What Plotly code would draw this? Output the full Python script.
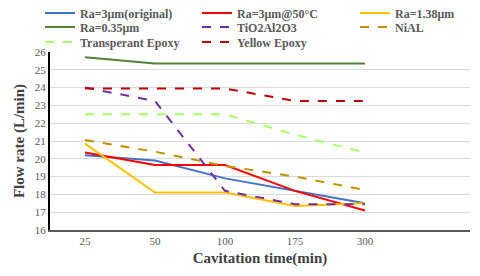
import plotly.graph_objects as go

categories = ["25", "50", "100", "175", "300"]
ra3_original = [20.2, 19.9, 18.9, 18.2, 17.5]
ra3_50c = [20.35, 19.65, 19.65, 18.2, 17.1]
ra1_38 = [20.85, 18.1, 18.1, 17.35, 17.5]
ra0_35 = [25.7, 25.35, 25.35, 25.35, 25.35]
tio2al2o3 = [24.0, 23.25, 18.2, 17.45, 17.45]
nial = [21.05, 20.4, 19.6, 19.0, 18.25]
transparent_epoxy = [22.5, 22.5, 22.5, 21.35, 20.35]
yellow_epoxy = [23.95, 23.95, 23.95, 23.25, 23.25]
y_ticks = list(range(16, 27))

series = [
    ("Ra=3μm(original)", ra3_original, "#4472C4", "solid"),
    ("Ra=3μm@50°C", ra3_50c, "#FF0000", "solid"),
    ("Ra=1.38μm", ra1_38, "#FFC000", "solid"),
    ("Ra=0.35μm", ra0_35, "#548235", "solid"),
    ("TiO2Al2O3", tio2al2o3, "#7030A0", "dash"),
    ("NiAL", nial, "#BF9000", "dash"),
    ("Transperant Epoxy", transparent_epoxy, "#A6FF66", "dash"),
    ("Yellow Epoxy", yellow_epoxy, "#C00000", "dash"),
]

# legend grid: line start x (px) per column, row center y (px)
col_x = [45, 202, 360]
row_y = [13, 27, 42]

L, R, T, B = 50, 10, 52, 46
W, Hh = 480, 276
PW, PH = W - L - R, Hh - T - B

lfont = dict(family="Liberation Serif", size=12, color="#595959", weight="bold")

fig = go.Figure()
legends = {}
for i, (name, vals, color, dash) in enumerate(series):
    key = "legend" if i == 0 else f"legend{i+1}"
    fig.add_trace(go.Scatter(
        x=list(range(len(categories))), y=vals, name=name, mode="lines",
        line=dict(color=color, width=2, dash=dash), legend=key,
    ))
    r, c = divmod(i, 3)
    legends[key] = dict(
        orientation="h", x=(col_x[c] - 5 - L) / PW, xanchor="left",
        y=(T + PH - row_y[r]) / PH, yanchor="middle",
        bgcolor="rgba(0,0,0,0)", font=lfont, itemwidth=30,
    )

fig.update_layout(
    width=W, height=Hh,
    margin=dict(l=L, r=R, t=T, b=B, autoexpand=False),
    paper_bgcolor="white", plot_bgcolor="white",
    showlegend=True,
    **legends,
    xaxis=dict(
        tickmode="array", tickvals=list(range(len(categories))), ticktext=categories,
        range=[-0.5, 5.5], showgrid=False, zeroline=False,
        showline=True, linecolor="#595959", linewidth=2,
        ticks="", tickfont=dict(family="Liberation Serif", size=11, color="#595959"),
        title=dict(text="Cavitation time(min)", standoff=6,
                   font=dict(family="Liberation Serif", size=15, color="#404040", weight="bold")),
    ),
    yaxis=dict(
        range=[16, 26], tickmode="array", tickvals=y_ticks,
        showgrid=True, gridcolor="#D9D9D9", gridwidth=1, zeroline=False,
        showline=True, linecolor="black", linewidth=2, ticks="",
        tickfont=dict(family="Liberation Serif", size=11, color="#595959"),
        title=dict(text="Flow rate (L/min)", standoff=7,
                   font=dict(family="Liberation Serif", size=15, color="#404040", weight="bold")),
    ),
)

fig.write_html("out.html", config={"displayModeBar": False},
               post_script="document.body.style.margin='0';")
